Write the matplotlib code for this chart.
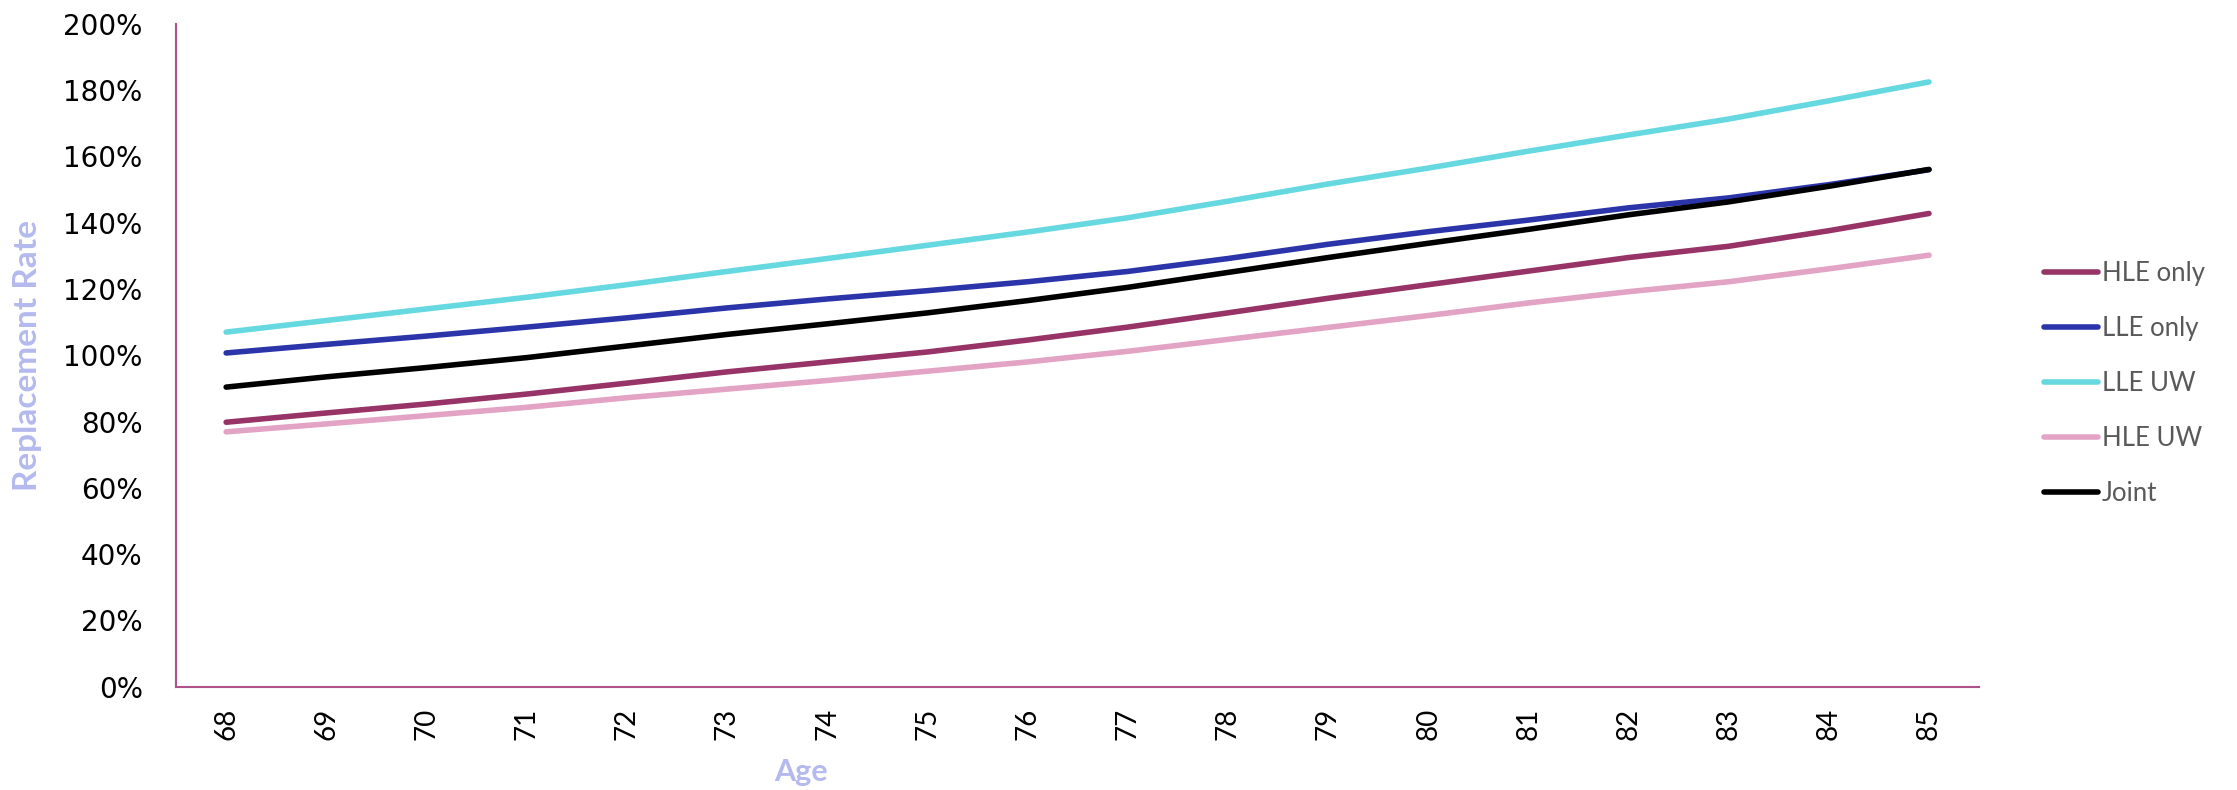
import matplotlib
matplotlib.use('Agg')
import matplotlib.pyplot as plt
from matplotlib import ticker
import numpy as np

ages = list(range(68, 86))

# replacement rate (%) by age
hle_only = [79.8, 82.6, 85.3, 88.3, 91.6, 95.0, 98.0, 101.0, 104.6, 108.5,
            112.8, 117.2, 121.3, 125.4, 129.5, 132.9, 137.6, 142.8]
lle_only = [100.7, 103.3, 105.8, 108.5, 111.3, 114.3, 117.0, 119.5, 122.2, 125.3,
            129.2, 133.5, 137.3, 140.8, 144.5, 147.5, 151.5, 156.0]
lle_uw = [107.0, 110.5, 114.0, 117.5, 121.3, 125.3, 129.2, 133.2, 137.2, 141.5,
          146.5, 151.7, 156.5, 161.6, 166.5, 171.3, 176.8, 182.5]
hle_uw = [76.9, 79.3, 81.8, 84.3, 87.2, 89.8, 92.4, 95.2, 98.0, 101.2,
          104.8, 108.4, 112.0, 115.8, 119.2, 122.2, 126.1, 130.2]
joint = [90.4, 93.5, 96.3, 99.3, 102.8, 106.3, 109.5, 112.8, 116.5, 120.5,
         125.0, 129.5, 133.8, 138.0, 142.4, 146.3, 151.0, 156.1]

series = [('HLE only', hle_only, '#973366'),
          ('LLE only', lle_only, '#2B35A9'),
          ('LLE UW', lle_uw, '#66D8E0'),
          ('HLE UW', hle_uw, '#E2A3C4'),
          ('Joint', joint, '#000000')]

fig = plt.figure(figsize=(22.37, 7.9), dpi=100)
ax = fig.add_axes([0.0787, 0.1308, 0.8060, 0.8389])

x = np.arange(len(ages))
for name, vals, col in series:
    ax.plot(x, vals, color=col, lw=4.0, label=name, solid_capstyle='round')

ax.set_xlim(-0.5, len(ages) - 0.5)
ax.set_ylim(0, 200)
ax.set_yticks(np.arange(0, 201, 20))
ax.yaxis.set_major_formatter(ticker.PercentFormatter(xmax=100, decimals=0))
ax.set_xticks(x)
ax.set_xticklabels([str(a) for a in ages], rotation=90, family='Lato', fontsize=20)
for lab in ax.get_yticklabels():
    lab.set_fontsize(20)
ax.tick_params(axis='both', length=0)
ax.tick_params(axis='y', pad=24)
ax.tick_params(axis='x', pad=15)

spine_col = '#B0528A'
for s in ['top', 'right']:
    ax.spines[s].set_visible(False)
for s in ['left', 'bottom']:
    ax.spines[s].set_color(spine_col)
    ax.spines[s].set_linewidth(1.5)

lab_col = '#B4B9EE'
ax.set_xlabel('Age', family='Lato', fontweight='bold', fontsize=22, color=lab_col)
ax.xaxis.set_label_coords(0.3466, -0.1076)
ax.set_ylabel('Replacement Rate', family='Lato', fontweight='bold', fontsize=24, color=lab_col)
ax.yaxis.set_label_coords(-0.0743, 0.5)

leg = fig.legend(loc='center left', bbox_to_anchor=(2044 / 2237, 0.515),
                 frameon=False, prop={'family': 'Lato', 'size': 18.5},
                 handlelength=2.1, handletextpad=0.15, labelspacing=1.17,
                 borderpad=0, borderaxespad=0)
for t in leg.get_texts():
    t.set_color('#595959')
for h in leg.get_lines():
    h.set_linewidth(4.0)
    h.set_solid_capstyle('round')

fig.savefig('out.png', dpi=100)
